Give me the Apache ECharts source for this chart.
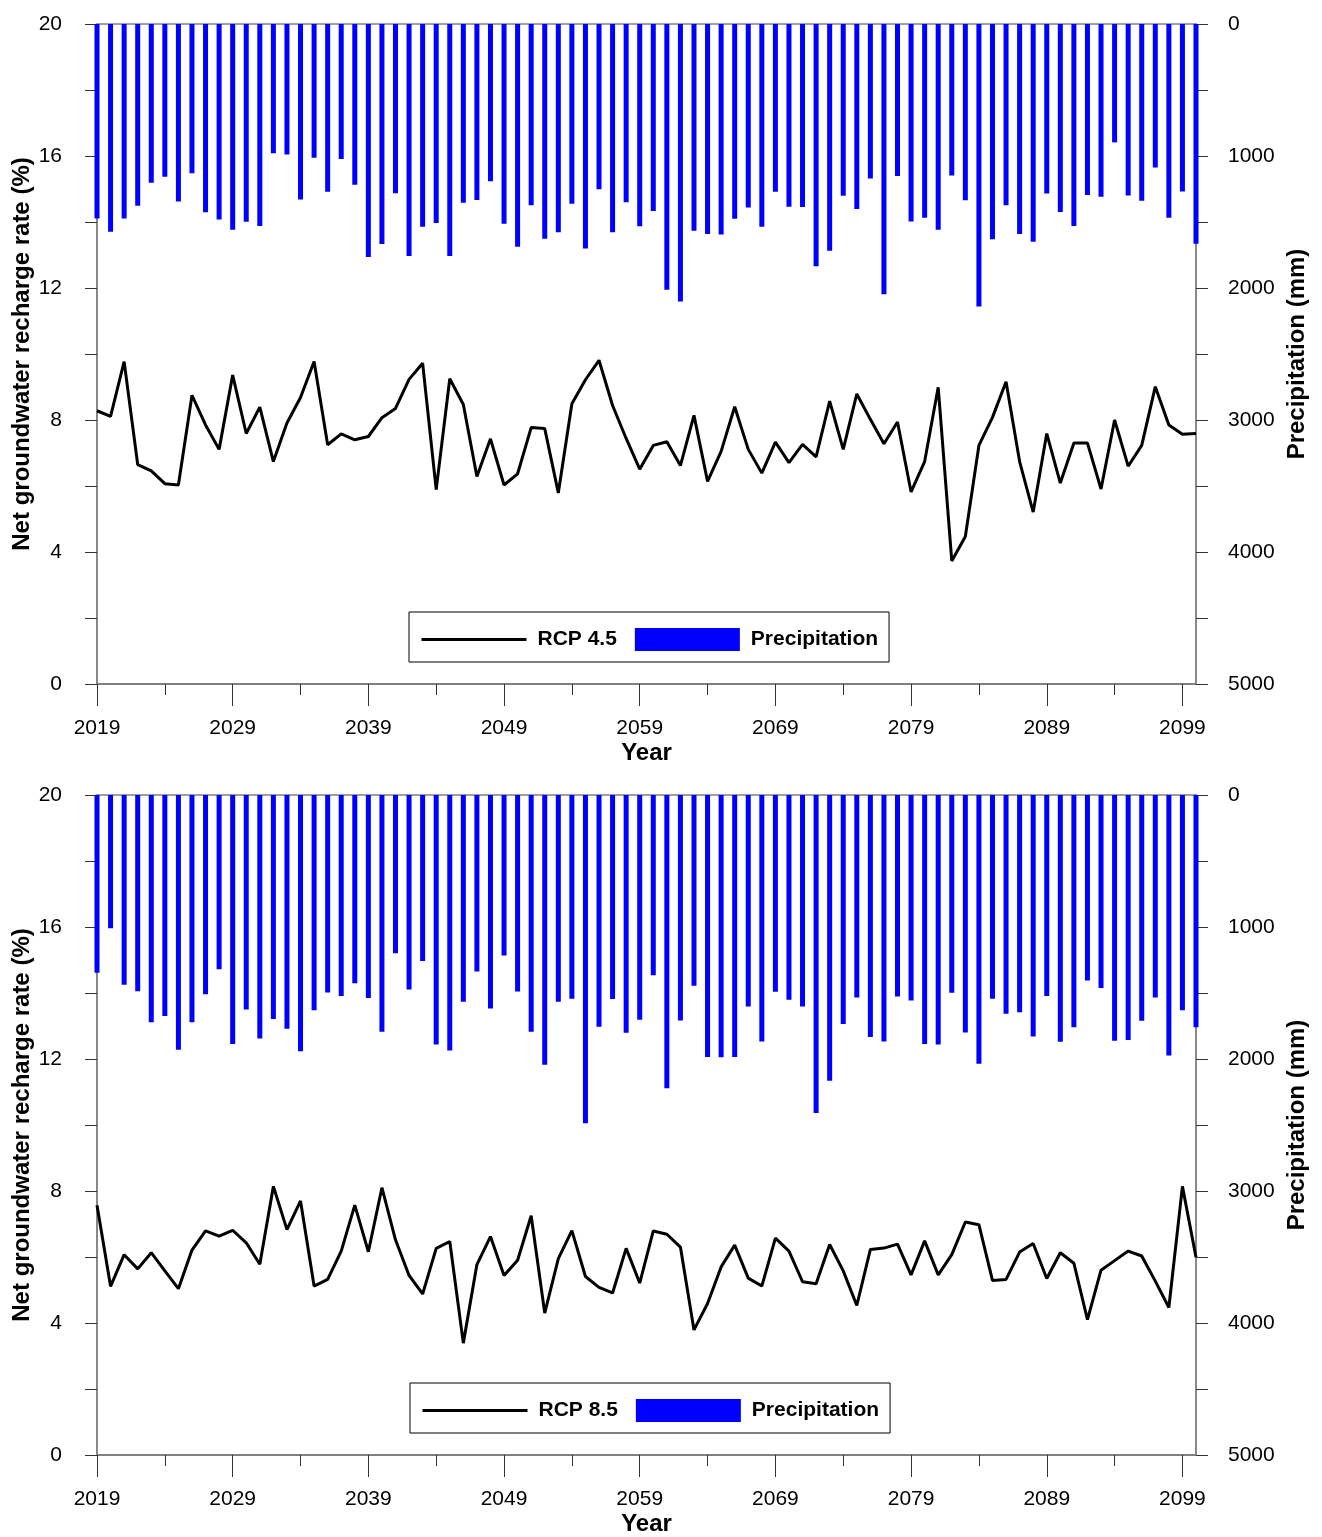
<!DOCTYPE html>
<html>
<head>
<meta charset="utf-8">
<title>Net groundwater recharge and precipitation</title>
<script src="https://cdn.jsdelivr.net/npm/echarts@6/dist/echarts.min.js"></script>
<style>
  html, body { margin: 0; padding: 0; background: #fff; }
  #chart { width: 1322px; height: 1537px; }
</style>
</head>
<body>
<div id="chart"></div>
<script>
// years on the x axis
const years = [
  2019, 2020, 2021, 2022, 2023, 2024, 2025, 2026, 2027, 2028,
  2029, 2030, 2031, 2032, 2033, 2034, 2035, 2036, 2037, 2038,
  2039, 2040, 2041, 2042, 2043, 2044, 2045, 2046, 2047, 2048,
  2049, 2050, 2051, 2052, 2053, 2054, 2055, 2056, 2057, 2058,
  2059, 2060, 2061, 2062, 2063, 2064, 2065, 2066, 2067, 2068,
  2069, 2070, 2071, 2072, 2073, 2074, 2075, 2076, 2077, 2078,
  2079, 2080, 2081, 2082, 2083, 2084, 2085, 2086, 2087, 2088,
  2089, 2090, 2091, 2092, 2093, 2094, 2095, 2096, 2097, 2098,
  2099, 2100
];

// RCP 4.5 - precipitation (mm) and net recharge rate (%)
const precip45 = [
  1473, 1573, 1473, 1376, 1202, 1157, 1345, 1131, 1427, 1481,
  1558, 1499, 1530, 980, 989, 1330, 1014, 1271, 1023, 1217,
  1766, 1667, 1282, 1758, 1536, 1507, 1758, 1355, 1333, 1191,
  1513, 1687, 1373, 1627, 1578, 1362, 1701, 1251, 1578, 1350,
  1533, 1416, 2014, 2103, 1567, 1590, 1595, 1476, 1390, 1536,
  1271, 1385, 1387, 1835, 1718, 1302, 1402, 1171, 2048, 1151,
  1496, 1467, 1558, 1148, 1336, 2140, 1630, 1373, 1590, 1650,
  1285, 1425, 1530, 1296, 1308, 897, 1299, 1339, 1088, 1467,
  1268, 1664
];
const rch45 = [
  8.28, 8.11, 9.77, 6.65, 6.46, 6.07, 6.03, 8.75, 7.85, 7.11,
  9.36, 7.59, 8.39, 6.74, 7.91, 8.68, 9.77, 7.25, 7.58, 7.40,
  7.50, 8.07, 8.35, 9.23, 9.72, 5.89, 9.25, 8.47, 6.29, 7.43,
  6.03, 6.37, 7.77, 7.74, 5.79, 8.49, 9.22, 9.81, 8.44, 7.44,
  6.51, 7.23, 7.34, 6.62, 8.14, 6.14, 7.05, 8.40, 7.11, 6.39,
  7.33, 6.71, 7.26, 6.88, 8.57, 7.11, 8.79, 8.02, 7.28, 7.94,
  5.82, 6.74, 8.99, 3.73, 4.47, 7.23, 8.08, 9.16, 6.74, 5.21,
  7.59, 6.09, 7.30, 7.30, 5.91, 8.00, 6.60, 7.23, 9.01, 7.85,
  7.57, 7.59
];

// RCP 8.5
const precip85 = [
  1346, 1010, 1437, 1486, 1722, 1674, 1930, 1722, 1509, 1321,
  1887, 1625, 1845, 1697, 1771, 1942, 1631, 1497, 1523, 1426,
  1537, 1793, 1198, 1474, 1258, 1890, 1936, 1567, 1338, 1617,
  1215, 1489, 1793, 2044, 1566, 1543, 2486, 1756, 1546, 1802,
  1702, 1366, 2221, 1708, 1446, 1984, 1987, 1984, 1603, 1867,
  1491, 1551, 1603, 2409, 2165, 1734, 1534, 1833, 1867, 1526,
  1556, 1887, 1890, 1499, 1799, 2036, 1544, 1657, 1645, 1830,
  1523, 1870, 1759, 1406, 1463, 1862, 1856, 1711, 1534, 1973,
  1631, 1759
];
const rch85 = [
  7.57, 5.11, 6.07, 5.64, 6.13, 5.58, 5.04, 6.21, 6.79, 6.63,
  6.81, 6.43, 5.78, 8.14, 6.83, 7.70, 5.12, 5.32, 6.18, 7.57,
  6.16, 8.10, 6.52, 5.44, 4.88, 6.26, 6.47, 3.39, 5.77, 6.62,
  5.44, 5.90, 7.25, 4.30, 5.95, 6.80, 5.41, 5.08, 4.91, 6.26,
  5.21, 6.79, 6.69, 6.30, 3.79, 4.59, 5.70, 6.36, 5.36, 5.12,
  6.57, 6.18, 5.25, 5.19, 6.38, 5.58, 4.53, 6.23, 6.27, 6.39,
  5.46, 6.49, 5.46, 6.07, 7.06, 6.98, 5.29, 5.32, 6.15, 6.41,
  5.35, 6.13, 5.81, 4.10, 5.60, 5.89, 6.18, 6.03, 5.27, 4.47,
  8.14, 5.99
];

const FONT = '"Liberation Sans", Arial, Helvetica, sans-serif';
const axisGray = '#808080';
const tickColor = '#333';
const nameStyle = { fontSize: 24, fontWeight: 'bold', color: '#000', fontFamily: FONT };
const labelStyle = { fontSize: 21, color: '#000', fontFamily: FONT };

function makeXAxes(gi) {
  return [
    {
      type: 'category', gridIndex: gi, data: years, boundaryGap: false, position: 'bottom',
      axisLine: { onZero: false, lineStyle: { color: axisGray, width: 2 } },
      axisTick: { interval: (i) => i % 10 === 0, length: 22, lineStyle: { color: tickColor, width: 1 } },
      axisLabel: Object.assign({ interval: (i) => i % 10 === 0, margin: 34 }, labelStyle),
      name: 'Year', nameLocation: 'middle', nameGap: 57, nameTextStyle: nameStyle
    },
    {
      // minor ticks every 5 years
      type: 'category', gridIndex: gi, data: years, boundaryGap: false, position: 'bottom',
      axisLine: { show: false, onZero: false },
      axisLabel: { show: false },
      axisTick: { interval: (i) => i % 10 === 5, length: 11, lineStyle: { color: tickColor, width: 1 } }
    }
  ];
}

function makeYAxes(gi) {
  return [
    {
      type: 'value', gridIndex: gi, position: 'left', min: 0, max: 20, interval: 2,
      axisLine: { show: true, lineStyle: { color: axisGray, width: 1.5 } },
      axisTick: { show: true, length: 12, lineStyle: { color: tickColor, width: 1 } },
      axisLabel: Object.assign({ margin: 35, formatter: (v) => (v % 4 === 0 ? v : '') }, labelStyle),
      splitLine: { show: false },
      name: 'Net groundwater recharge rate (%)', nameLocation: 'middle', nameRotate: 90,
      nameGap: 63, nameMoveOverlap: false, nameTextStyle: nameStyle
    },
    {
      type: 'value', gridIndex: gi, position: 'right', min: 0, max: 5000, interval: 500, inverse: true,
      axisLine: { show: true, lineStyle: { color: axisGray, width: 1.5 } },
      axisTick: { show: true, length: 12, lineStyle: { color: tickColor, width: 1 } },
      axisLabel: Object.assign({ margin: 32, formatter: (v) => (v % 1000 === 0 ? v : '') }, labelStyle),
      splitLine: { show: false },
      name: 'Precipitation (mm)', nameLocation: 'middle', nameRotate: 90,
      nameGap: 88, nameTextStyle: nameStyle
    }
  ];
}

function makeLegend(left, top, lineName) {
  return {
    left: left, top: top, orient: 'horizontal',
    padding: [16, 11, 11, 11], borderColor: '#000', borderWidth: 1,
    itemGap: 18, itemWidth: 105, itemHeight: 23, selectedMode: false,
    data: [
      // hide the marker that a line series puts in its legend icon
      { name: lineName, itemStyle: { opacity: 0 }, lineStyle: { width: 3, color: '#000' } },
      { name: 'Precipitation', icon: 'rect' }
    ],
    textStyle: { fontSize: 21, fontWeight: 'bold', color: '#000', fontFamily: FONT, padding: [0, 0, 0, 6] }
  };
}

function lineSeries(name, xi, yi, data) {
  return {
    name: name, type: 'line', xAxisIndex: xi, yAxisIndex: yi, data: data,
    symbol: 'none', z: 3,
    lineStyle: { color: '#000', width: 3 }, itemStyle: { color: '#000' }
  };
}

function barSeries(xi, yi, data) {
  return {
    name: 'Precipitation', type: 'bar', xAxisIndex: xi, yAxisIndex: yi, data: data,
    barWidth: 5, clip: false, z: 2,
    itemStyle: { color: '#0000ff' }
  };
}

const chart = echarts.init(document.getElementById('chart'));
chart.setOption({
  animation: false,
  backgroundColor: '#fff',
  textStyle: { fontFamily: FONT },
  grid: [
    { left: 97, top: 24, width: 1099, height: 660, show: true, borderColor: axisGray, borderWidth: 1.5, outerBoundsMode: 'none' },
    { left: 97, top: 795, width: 1099, height: 660, show: true, borderColor: axisGray, borderWidth: 1.5, outerBoundsMode: 'none' }
  ],
  xAxis: makeXAxes(0).concat(makeXAxes(1)),
  yAxis: makeYAxes(0).concat(makeYAxes(1)),
  legend: [makeLegend(409, 612, 'RCP 4.5'), makeLegend(410, 1383, 'RCP 8.5')],
  series: [
    barSeries(0, 1, precip45),
    lineSeries('RCP 4.5', 0, 0, rch45),
    barSeries(2, 3, precip85),
    lineSeries('RCP 8.5', 2, 2, rch85)
  ]
});
</script>
</body>
</html>
